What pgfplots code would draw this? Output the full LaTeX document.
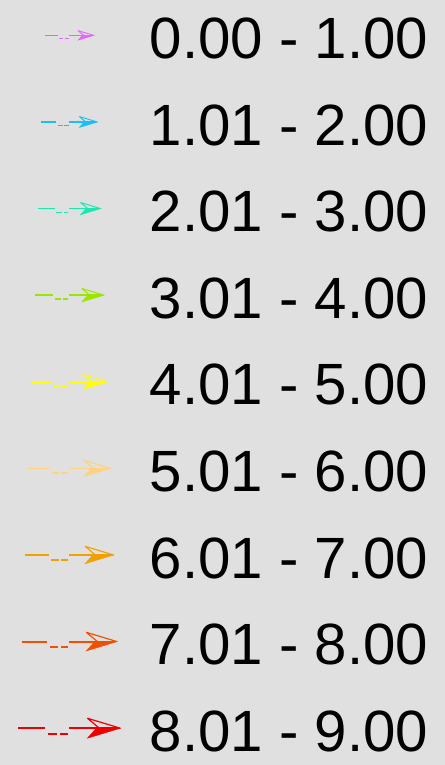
\documentclass[border=0pt]{standalone}
\usepackage{fontspec}
\setmainfont{Liberation Sans}
\usepackage{pgfplots}
\pgfplotsset{compat=1.18}
\definecolor{bg}{RGB}{224,224,224}
\definecolor{c1}{RGB}{224,102,255}
\definecolor{c2}{RGB}{25,190,250}
\definecolor{c3}{RGB}{30,230,175}
\definecolor{c4}{RGB}{155,230,0}
\definecolor{c5}{RGB}{255,255,0}
\definecolor{c6}{RGB}{255,210,130}
\definecolor{c7}{RGB}{240,160,0}
\definecolor{c8}{RGB}{240,80,0}
\definecolor{c9}{RGB}{238,0,0}
\newcommand\glyph[2]{%
  \pgfmathsetmacro\s{#1}%
  \pgfmathsetmacro\lw{0.95+1.05*#1}%
  \path (-52bp,-20bp) (52bp,20bp);
  \begin{scope}[yshift=2.5bp, x=\s bp, y=\s bp]
    \draw[#2, line width=\lw bp] (-51,0)--(-24,0);
    \draw[#2, line width=\lw bp] (-21,-6)--(-12.5,-6) (-9.5,-6)--(-1.5,-6);
    \draw[#2, line width=\lw bp] (0,0)--(48,0);
    \fill[#2] (51,0)--(18,-10)--(27,0)--cycle;
    \draw[#2, line width=0.6*\lw bp, line join=round] (18,10)--(51,0) (18,10)--(30,0);
  \end{scope}
}
\begin{document}
\begin{tikzpicture}
\fill[bg] (0,0) rectangle (445bp,765bp);
\useasboundingbox (0,0) rectangle (445bp,765bp);
\begin{axis}[
  at={(0,0)}, anchor=south west,
  width=445bp, height=765bp, scale only axis,
  hide axis, xmin=0, xmax=1, ymin=0, ymax=1,
  legend cell align=left,
  legend style={draw=none, fill=none,
    at={(axis description cs:0.0382,0.9775)}, anchor=north west,
    inner sep=0pt, row sep=45.6bp, column sep=28.3bp,
    font=\fontsize{58.2bp}{60bp}\selectfont,
    nodes={inner sep=0pt, text height=41bp, text depth=0pt}},
]
\addlegendimage{legend image code/.code={\glyph{0.480}{c1}}}
\addlegendentry{0.00 - 1.00}
\addlegendimage{legend image code/.code={\glyph{0.550}{c2}}}
\addlegendentry{1.01 - 2.00}
\addlegendimage{legend image code/.code={\glyph{0.615}{c3}}}
\addlegendentry{2.01 - 3.00}
\addlegendimage{legend image code/.code={\glyph{0.680}{c4}}}
\addlegendentry{3.01 - 4.00}
\addlegendimage{legend image code/.code={\glyph{0.745}{c5}}}
\addlegendentry{4.01 - 5.00}
\addlegendimage{legend image code/.code={\glyph{0.807}{c6}}}
\addlegendentry{5.01 - 6.00}
\addlegendimage{legend image code/.code={\glyph{0.870}{c7}}}
\addlegendentry{6.01 - 7.00}
\addlegendimage{legend image code/.code={\glyph{0.935}{c8}}}
\addlegendentry{7.01 - 8.00}
\addlegendimage{legend image code/.code={\glyph{1.000}{c9}}}
\addlegendentry{8.01 - 9.00}
\end{axis}
\end{tikzpicture}
\end{document}
